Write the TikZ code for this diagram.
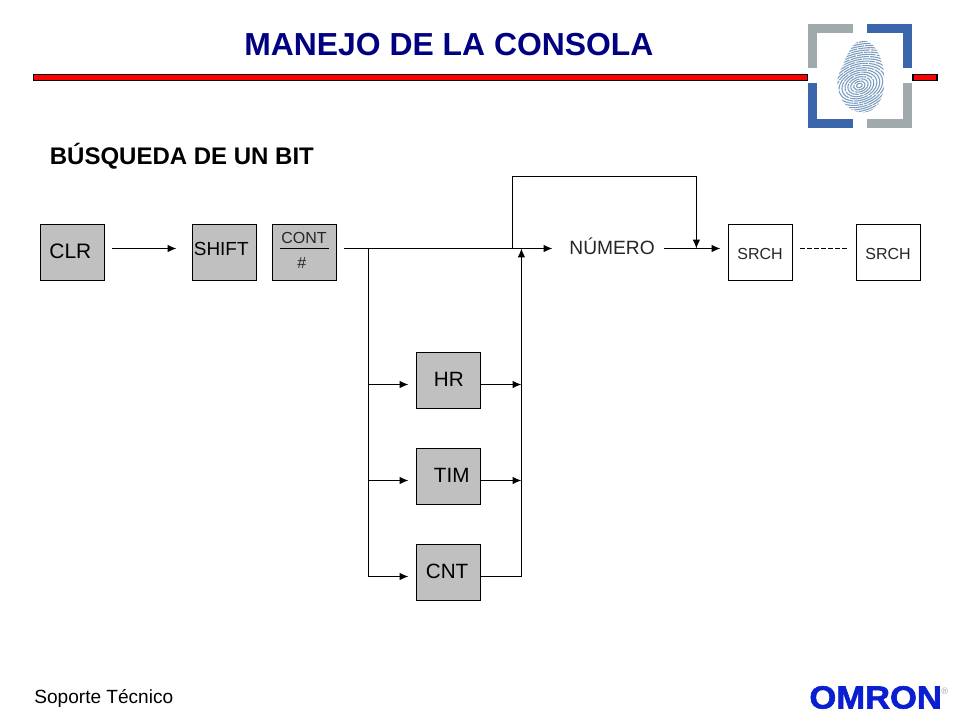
\documentclass[tikz,border=0pt]{standalone}
\usepackage{fontspec}
\setmainfont{Liberation Sans}
\newfontfamily\omronfont[FakeBold=1.8]{Liberation Sans Bold}
\usetikzlibrary{arrows.meta}
\definecolor{navytitle}{HTML}{000080}
\definecolor{keygray}{HTML}{C0C0C0}
\definecolor{logogray}{HTML}{A0A9AB}
\definecolor{logoblue}{HTML}{3B66AC}
\definecolor{printblue}{HTML}{7C9DBF}
\definecolor{omronblue}{HTML}{0A1FD0}
\tikzset{
  x=0.75pt,y=-0.75pt,
  keybox/.style={draw=black,line width=0.8pt,minimum width=48pt,minimum height=42pt,inner sep=0pt,outer sep=0pt},
  graykey/.style={keybox,fill=keygray},
  whitekey/.style={keybox,fill=white},
  tag/.style={inner sep=0pt,outer sep=0pt,anchor=base west,text=black},
  conn/.style={draw=black,line width=0.8pt,-{Latex[length=6.6pt,width=5.6pt]}},
  plainline/.style={draw=black,line width=0.8pt},
  bracket/.style={line width=6.75pt,line cap=butt,line join=miter},
  redbar/.style={draw=black,fill=red,line width=1pt}
}
\begin{document}
\begin{tikzpicture}
\useasboundingbox (-0.4,-0.5) rectangle (959.6,719.5);
\fill[white] (-0.4,-0.5) rectangle (959.6,719.5);
% title bar
\draw[redbar] (33,74) rectangle (807,80);
\draw[redbar] (912.5,74) rectangle (936.5,80);
% title
\node[tag,text=navytitle,font=\bfseries\fontsize{23.9}{28}\selectfont] (title) at (244,55.5) {MANEJO DE LA CONSOLA};
\node[tag,font=\bfseries\fontsize{18}{22}\selectfont] (subtitle) at (49.5,164.3) {BÚSQUEDA DE UN BIT};
% logo brackets
\draw[bracket,logogray] (812.5,68) -- (812.5,28.5) -- (853,28.5);
\draw[bracket,logoblue] (867,28.5) -- (907.5,28.5) -- (907.5,68);
\draw[bracket,logoblue] (812.5,83) -- (812.5,123.5) -- (853,123.5);
\draw[bracket,logogray] (867,123.5) -- (907.5,123.5) -- (907.5,83);
% fingerprint
\begin{scope}
\clip (862,40) .. controls (852,40) and (846,56) .. (842,66)
  .. controls (839,72) and (837,76) .. (837,82)
  .. controls (837,96) and (846,112) .. (862,112)
  .. controls (876,112) and (884,98) .. (884,80)
  .. controls (884,62) and (876,40) .. (862,40) -- cycle;
\foreach \r in {3,6,...,75}{
  \draw[printblue,line width=0.8pt,dash pattern=on 14pt off 0.8pt,rotate around={20:(859,85)}]
    (859,85) ellipse [x radius=\r*1.0,y radius=\r*0.7];
}
\end{scope}
% keys
\node[graykey] (clr) at (72,252) {};
\node[graykey] (shift) at (224,252) {};
\node[graykey] (cont) at (304,252) {};
\node[graykey] (hr) at (448,380) {};
\node[graykey] (tim) at (448,476) {};
\node[graykey] (cnt) at (448,572) {};
\node[whitekey] (srcha) at (760,252) {};
\node[whitekey] (srchb) at (888,252) {};
% key labels
\node[tag,font=\fontsize{15.7}{18}\selectfont] (clrt) at (49,258) {CLR};
\node[tag,font=\fontsize{14.2}{16}\selectfont] (shiftt) at (193.5,255) {SHIFT};
\node[tag,font=\fontsize{12}{13}\selectfont,text=black!85] (contt) at (281,243.5) {CONT};
\node[tag,font=\fontsize{12}{14}\selectfont,text=black!85] (hash) at (297,268) {\#};
\node[tag,font=\fontsize{15.5}{18}\selectfont] (hrt) at (433.5,386) {HR};
\node[tag,font=\fontsize{15.5}{18}\selectfont] (timt) at (433.5,482) {TIM};
\node[tag,font=\fontsize{15.5}{18}\selectfont] (cntt) at (425.5,578) {CNT};
\node[tag,font=\fontsize{12}{13}\selectfont,text=black!85] (srchat) at (737,259.5) {SRCH};
\node[tag,font=\fontsize{12}{13}\selectfont,text=black!85] (srchbt) at (865,259.5) {SRCH};
\node[tag,font=\fontsize{14.4}{16}\selectfont,text=black!85] (numt) at (569,254) {NÚMERO};
% footer
\node[tag,font=\fontsize{14.3}{16}\selectfont] (footer) at (34,703) {Soporte Técnico};
\node[tag,text=omronblue,font=\omronfont\fontsize{24}{28}\selectfont,xscale=1.08] (omron) at (809,708) {OMRON};
\node[tag,text=logogray,font=\fontsize{7}{8}\selectfont] (reg) at (941,694) {®};
% helper coordinates
\coordinate (outa) at (344,248);
\coordinate (busl) at (368,248);
\coordinate (loopa) at (512,248);
\coordinate (loopb) at (512,176);
\coordinate (loopc) at (696,176);
\coordinate (loopd) at (696,248);
\coordinate (retop) at (521,248);
\coordinate (retbot) at (521,576);
\coordinate (numin) at (552,248);
\coordinate (numout) at (664,248);
\coordinate (srchin) at (720,248);
\coordinate (dasha) at (800,248);
\coordinate (dashb) at (847,248);
\coordinate (hrin) at (408,384);
\coordinate (timin) at (408,480);
\coordinate (cntin) at (408,576);
\coordinate (hrout) at (480,384);
\coordinate (timout) at (480,480);
\coordinate (cntout) at (480,576);
\coordinate (hrj) at (521,384);
\coordinate (timj) at (521,480);
\coordinate (arra) at (112,248);
\coordinate (arrb) at (176,248);
\coordinate (fracl) at (280,248);
\coordinate (fracr) at (329,248);
% connectors
\draw[conn] (arra) -- (arrb);
\draw[plainline] (fracl) -- (fracr);
\draw[conn] (outa) -- (numin);
\draw[plainline] (loopa) -- (loopb) -- (loopc);
\draw[conn] (loopc) -- (loopd);
\draw[conn] (numout) -- (srchin);
\draw[conn] (retbot) -- (retop);
\draw[plainline] (cntout) -- (retbot);
\draw[conn] (hrout) -- (hrj);
\draw[conn] (timout) -- (timj);
\draw[plainline] (busl) -- (busl |- cntin);
\draw[conn] (busl |- hrin) -- (hrin);
\draw[conn] (busl |- timin) -- (timin);
\draw[conn] (busl |- cntin) -- (cntin);
\draw[draw=black,line width=0.7pt,dash pattern=on 3.6pt off 1.65pt] (dasha) -- (dashb);
\end{tikzpicture}
\end{document}
